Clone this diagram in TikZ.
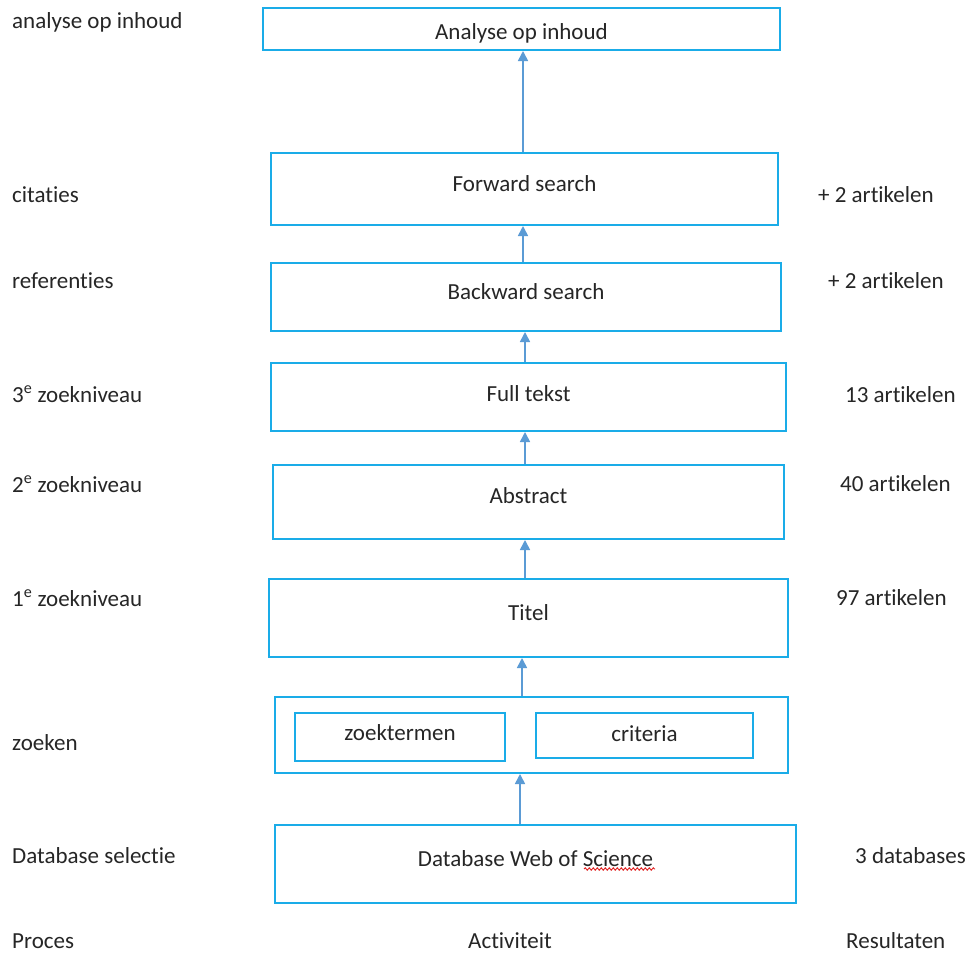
\documentclass[tikz,border=0pt]{standalone}
\usepackage{fontspec}
\setmainfont[Ligatures=NoCommon]{Carlito}
\usetikzlibrary{arrows.meta,decorations.pathmorphing}
\definecolor{boxblue}{HTML}{1AACE8}
\definecolor{arrowblue}{HTML}{5B9BD5}
\definecolor{spellred}{HTML}{E02020}
\tikzset{
  stepbox/.style={draw=boxblue, line width=2pt, fill=white, inner sep=0pt, text height=16pt, text depth=11pt},
  flow/.style={draw=arrowblue, line width=1.6pt, -{Triangle[length=10pt,width=10pt]}},
  lbl/.style={anchor=west, inner sep=0pt, text=black!85},
}
\begin{document}
\begin{tikzpicture}[x=1pt, y=-1pt, every node/.style={font=\fontsize{23}{27}\selectfont, text=black!85}]
\useasboundingbox[fill=white] (0,0) rectangle (972,953);

% activity boxes
\node[stepbox, minimum width=517pt, minimum height=42pt, text height=22pt, text depth=1pt] (ana) at (521.5,29) {Analyse op inhoud};
\node[stepbox, minimum width=507pt, minimum height=72pt] (fwd) at (524.5,189) {Forward search};
\node[stepbox, minimum width=510pt, minimum height=68pt] (bwd) at (526,297) {Backward search};
\node[stepbox, minimum width=515pt, minimum height=68pt, text depth=8pt] (full) at (528.5,397) {Full tekst};
\node[stepbox, minimum width=511pt, minimum height=74pt, text depth=13pt] (abs) at (528.5,502) {Abstract};
\node[stepbox, minimum width=519pt, minimum height=78pt] (tit) at (528.5,618) {Titel};
\node[stepbox, minimum width=513pt, minimum height=76pt] (zoek) at (531.5,735) {};
\node[stepbox, minimum width=210pt, minimum height=48pt, text depth=9pt] (term) at (400,737) {zoektermen};
\node[stepbox, minimum width=217pt, minimum height=45pt, text depth=5pt] (crit) at (644.5,735.5) {criteria};
\node[stepbox, minimum width=521pt, minimum height=78pt, text depth=12pt] (db) at (535.5,864) {Database Web of Science};

% spell-check underline below "Science"
\draw[spellred, line width=0.9pt, decorate, decoration={snake, amplitude=1.2pt, segment length=4pt}] (584,869) -- (655,869);

% arrow columns
\coordinate (c1) at (523,0);
\coordinate (c2) at (525,0);
\coordinate (c3) at (522,0);
\coordinate (c4) at (520,0);

\draw[flow] (fwd.north -| c1) -- (ana.south -| c1);
\draw[flow] (bwd.north -| c1) -- (fwd.south -| c1);
\draw[flow] (full.north -| c2) -- (bwd.south -| c2);
\draw[flow] (abs.north -| c2) -- (full.south -| c2);
\draw[flow] (tit.north -| c2) -- (abs.south -| c2);
\draw[flow] (zoek.north -| c3) -- (tit.south -| c3);
\draw[flow] (db.north -| c4) -- (zoek.south -| c4);

% process column
\node[lbl] (p1) at (12,22) {analyse op inhoud};
\node[lbl] (p2) at (12,195) {citaties};
\node[lbl] (p3) at (12,281) {referenties};
\node[lbl] (p4) at (12,394) {3\textsuperscript{e} zoekniveau};
\node[lbl] (p5) at (12,484) {2\textsuperscript{e} zoekniveau};
\node[lbl] (p6) at (12,598) {1\textsuperscript{e} zoekniveau};
\node[lbl] (p7) at (12,743) {zoeken};
\node[lbl] (p8) at (12,856) {Database selectie};
\node[lbl] (p9) at (12,941) {Proces};

% activity caption
\node (act) at (510,941) {Activiteit};

% results column
\node[lbl] (r1) at (818,195) {+ 2 artikelen};
\node[lbl] (r2) at (828,281) {+ 2 artikelen};
\node[lbl] (r3) at (845,395) {13 artikelen};
\node[lbl] (r4) at (840,484) {40 artikelen};
\node[lbl] (r5) at (836,598) {97 artikelen};
\node[lbl] (r6) at (855,856) {3 databases};
\node[lbl] (r7) at (846,941) {Resultaten};
\end{tikzpicture}
\end{document}
